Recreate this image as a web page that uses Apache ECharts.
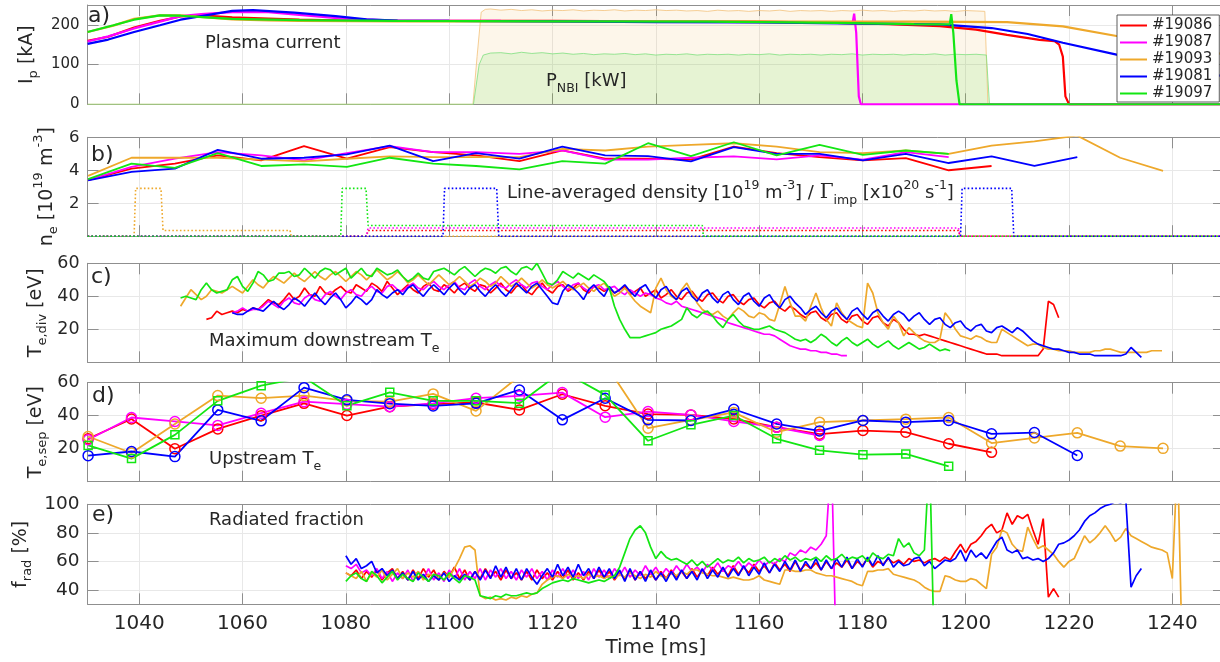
<!DOCTYPE html>
<html>
<head>
<meta charset="utf-8">
<title>Shot comparison #19081–#19097</title>
<script src="https://cdn.jsdelivr.net/npm/echarts@6/dist/echarts.min.js"></script>
<style>
  html, body { margin: 0; padding: 0; background: #ffffff; }
  #chart { width: 1220px; height: 662px; }
</style>
</head>
<body>
<div id="chart"></div>
<script>
// ---------------------------------------------------------------------------
// Shots and time base
// ---------------------------------------------------------------------------
const SHOTS = ['#19086', '#19087', '#19093', '#19081', '#19097'];
const X_TICKS = [1040, 1060, 1080, 1100, 1120, 1140, 1160, 1180, 1200, 1220, 1240];

// Thomson / interferometer profile times [ms]
const tProfile = [1030.1, 1038.5, 1046.9, 1055.2, 1063.6, 1071.9, 1080.2, 1088.5, 1096.9, 1105.2,
  1113.6, 1121.9, 1130.2, 1138.5, 1146.8, 1155.1, 1163.4, 1171.7, 1180.1, 1188.4,
  1196.7, 1205.0, 1213.3, 1221.6, 1229.9, 1238.2];

// ---------------------------------------------------------------------------
// a) Plasma current [kA], [t, Ip]
// ---------------------------------------------------------------------------
const ipRed = [[1030,160],[1034,170],[1039,193],[1044,210],[1048,221],[1052,224],[1058,219],[1065,216],[1071,213],[1080,211],[1090,210],[1100,210],[1120,210],[1140,209],[1160,208],[1175,205],[1185,202],[1195,197],[1202,188],[1208,175],[1214.3,162],[1217.2,159],[1218.1,150],[1218.4,153],[1218.8,120],[1219.3,20],[1220,0],[1250,0]];
const ipMagenta = [[1030,158],[1034,171],[1039,191],[1044,208],[1048,222],[1052,227],[1058,232],[1065,232],[1071,225],[1080,215],[1090,211],[1110,210],[1140,209],[1160,207],[1176,205],[1178.1,204],[1178.4,228],[1178.8,180],[1179.3,20],[1179.7,0],[1250,0]];
const ipOrange = [[1030,182],[1035,198],[1039,215],[1044,224],[1048,224],[1053,219],[1058,214],[1065,211],[1071,210],[1090,209],[1120,209],[1150,209],[1170,208],[1190,208],[1208,207],[1218.8,196],[1229.2,172],[1240,148],[1250,126]];
const ipBlue = [[1030,152],[1034,163],[1039,182],[1044,199],[1048,213],[1052,222],[1058,235],[1062,237],[1070,231],[1078,222],[1084,214],[1090,211],[1100,210],[1120,209],[1140,207],[1160,206],[1180,203],[1195,201],[1205,192],[1212,177],[1218.8,155],[1229.2,125],[1240,97],[1250,70]];
const ipGreen = [[1030,182],[1035,199],[1039,213],[1044,224],[1048,223],[1053,219],[1058,215],[1071,212],[1090,210],[1120,209],[1150,208],[1175,205],[1190,202],[1196.9,201],[1197.2,227],[1197.6,180],[1198.2,60],[1198.8,0],[1250,0]];

// NBI power [kW], [t, P]
const nbiOrange = [[1030,0],[1104.6,0],[1105.4,120],[1106.2,232],[1107,239],[1108,240],[1110,237],[1112,239],[1114,236],[1116,238],[1118,235],[1120,237],[1122,236],[1124,238],[1126,235],[1128,237],[1130,236],[1132,238],[1134,235],[1136,237],[1138,236],[1140,238],[1142,236],[1144,237],[1146,235],[1148,236],[1150,234],[1152,237],[1154,235],[1156,236],[1158,234],[1160,236],[1162,235],[1164,237],[1166,234],[1168,236],[1170,235],[1172,236],[1174,234],[1176,236],[1178,235],[1180,237],[1182,235],[1184,236],[1186,234],[1188,236],[1190,235],[1192,237],[1194,235],[1196,236],[1198,234],[1200,236],[1202,235],[1203.7,234],[1204.3,0],[1250,0]];
const nbiGreen = [[1030,0],[1104.7,0],[1105.8,100],[1106.6,124],[1108,129],[1110,130],[1112,127],[1114,131],[1116,128],[1118,130],[1120,127],[1122,129],[1124,126],[1126,128],[1128,125],[1130,127],[1132,126],[1134,128],[1136,125],[1138,127],[1140,124],[1142,126],[1144,125],[1146,127],[1148,124],[1150,126],[1152,125],[1154,126],[1156,124],[1158,126],[1160,125],[1162,127],[1164,124],[1166,126],[1168,125],[1170,126],[1172,124],[1174,126],[1176,125],[1178,127],[1180,124],[1182,126],[1184,125],[1186,126],[1188,124],[1190,126],[1192,125],[1194,127],[1196,124],[1198,126],[1200,125],[1202,126],[1204,124],[1204.6,0],[1250,0]];

// ---------------------------------------------------------------------------
// b) Line-averaged density [1e19 m^-3] on tProfile, impurity puff [1e20 s^-1]
// ---------------------------------------------------------------------------
const neRed = [3.4, 4.1, 4.4, 4.9, 4.6, 5.46, 4.7, 5.4, 5.1, 4.9, 4.56, 5.2, 4.7, 4.7, 4.64, 5.44, 5.04, 4.8, 4.6, 4.74, 4.0, 4.26, null, null, null, null];
const neMagenta = [3.4, 4.2, 4.7, 5.1, 4.9, 4.6, 5.04, 5.46, 5.1, 5.1, 5.0, 5.2, 4.64, 4.64, 4.76, 4.84, 4.66, 4.9, 4.64, 5.1, 4.8, null, null, null, null, null];
const neOrange = [3.66, 4.76, 4.76, 4.76, 4.64, 4.54, 4.7, 4.84, 4.8, 4.8, 4.8, 5.3, 5.2, 5.44, 5.54, 5.64, 5.44, 5.1, 5.04, 5.2, 5.0, 5.5, 5.75, 6.1, 4.76, 3.96];
const neBlue = [3.38, 3.9, 4.1, 5.24, 4.7, 4.76, 4.96, 5.5, 4.56, 5.04, 4.7, 5.44, 4.9, 4.86, 4.54, 5.4, 5.0, 5.0, 4.6, 5.0, 4.44, 4.84, 4.26, 4.8, null, null];
const neGreen = [3.46, 4.4, 4.14, 5.04, 4.26, 4.36, 4.2, 4.76, 4.4, 4.26, 4.06, 4.56, 4.4, 5.64, 4.86, 5.7, 4.9, 5.54, 4.94, 5.2, 5.0, null, null, null, null, null];

const puffRed = [[1030,0],[1084,0],[1084.3,0.35],[1198.6,0.35],[1198.9,0],[1250,0]];
const puffMagenta = [[1030,0],[1084,0],[1084.3,0.5],[1198.6,0.5],[1198.9,0],[1250,0]];
const puffOrange = [[1030,0],[1039,0],[1039.3,2.9],[1044.2,2.9],[1044.6,0.35],[1069.2,0.35],[1069.4,0],[1250,0]];
const puffBlue = [[1030,0],[1098.8,0],[1099.1,2.9],[1109.2,2.9],[1109.6,0],[1199,0],[1199.3,2.9],[1208.9,2.9],[1209.3,0],[1250,0]];
const puffGreen = [[1030,0],[1079,0],[1079.3,2.9],[1083.9,2.9],[1084.3,0.65],[1149,0.65],[1149.2,0],[1250,0]];

// ---------------------------------------------------------------------------
// c) Maximum divertor Te [eV], 1 ms samples from the given start time
// ---------------------------------------------------------------------------
const teDivRedStart = 1053;
const teDivRed = [26,27,31,29,30,31,30,32,31,33, 32,35,38,36,35,38,42,38,40,45, 41,40,46,42,41,44,46,43,42,47, 45,43,48,46,43,49,45,41,
  44,47,44,42,46,48,44,43,47,45, 42,46,48,45,43,47,46,42,45,48, 44,42,46,47,43,41,45,48,44,42, 46,47,43,45,48,44,42,46,45,43,
  45,42,44,46,41,43,45,40,42,44, 39,41,44,40,38,42,43,39,37,41, 42,38,36,40,41,37,35,38,39,35, 33,36,37,33,31,34,32,
  29,27,30,31,27,25,29,30,26,24, 28,29,25,23,27,28,24,22,26,24, 20,17,17,16,17,16,15,14,13,12, 11,10,9,8,7,6,5,5,5,4, 4,4,4,4,4,4,4,8,37,35, 27];
const teDivMagentaStart = 1058;
const teDivMagenta = [30,31,33,31,32,32,34,37,35,33, 37,39,36,35,39,41,38,37,41,43, 40,38,42,44,41,40,44,46,43,42, 46,47,44,
  43,46,48,45,44,47,49,46,44,47, 49,45,44,48,50,46,44,47,49,46, 45,48,50,47,45,48,49,46,44,47, 49,46,44,47,48,45,43,46,47,44,
  45,46,43,41,44,42,40,42,41,39, 38,36,35,37,34,33,32,31,30,29, 28,27,26,24,23,22,21,20,19,18, 17,17,16,14,12,10,9,8,8,7, 7,6,6,5,5,4,4];
const teDivOrangeStart = 1048;
const teDivOrange = [34,39,44,41,38,40,44,43,42,44, 46,44,42,46,50,47,45,49,52,50, 48,51,54,51,49,52,55,52,50,53, 55,52,49,52,55,53,50,53,56,53, 50,52,55,
  52,48,50,53,50,47,50,53,50,47, 49,52,49,46,48,51,49,46,48,52, 49,46,48,51,48,45,47,50,47,45, 47,49,46,44,46,48,45,43,46,48,
  44,40,42,45,41,37,34,32,30,45, 51,44,40,38,44,48,42,36,32,30, 29,31,28,26,30,33,31,28,27,30, 29,26,25,35,46,36,28,
  28,25,34,42,33,26,22,36,30,26, 24,22,21,48,42,30,24,20,28,24, 16,21,18,15,13,12,12,14,30,26, 20,16,15,14,16,15,13,12,12,20,
  18,16,14,12,10,11,11,9,8,8, 7,7,7,6,6,6,6,7,7,8, 8,7,6,6,6,6,6,6,7,7, 7];
const teDivBlueStart = 1058;
const teDivBlue = [30,29,29,31,33,32,31,34,37,34, 32,35,39,37,34,38,42,38,35,39, 42,38,33,36,40,38,35,38,44,41, 39,42,44,
  41,45,47,43,40,44,47,44,41,45, 48,44,41,45,47,43,40,44,47,43, 40,44,48,45,42,46,48,44,40,36, 35,43,47,45,42,38,44,47,43,40,
  46,42,44,47,43,40,45,47,42,39, 44,46,41,38,43,45,40,37,42,44, 39,36,41,43,38,35,40,42,37,34, 39,41,36,33,38,40,36,
  33,29,32,34,30,27,31,33,29,26, 31,33,29,26,30,32,28,25,29,31, 29,25,28,30,26,23,26,27,23,21, 24,25,21,19,22,23,19,18,21,22,
  20,18,21,19,16,13,11,10,9,8, 8,7,6,6,5,5,5,4,4,4, 4,4,4,5,9,6,3];
const teDivGreenStart = 1048;
const teDivGreen = [39,40,39,38,44,48,44,42,43,44, 50,52,46,43,48,55,53,49,50,54, 54,55,52,53,57,54,51,55,57,56, 53,55,57,51,54,57,53,52,57,55, 53,54,56,
  52,49,51,54,51,50,55,56,57,55, 53,56,58,55,52,55,57,56,54,57, 58,55,53,57,58,56,60,54,48,47, 50,55,53,51,54,52,50,53,51,49, 45,
  34,26,20,15,15,15,16,17,18,20, 21,22,24,26,33,29,27,30,31,28, 24,21,26,29,25,22,21,20,20,21, 22,20,19,18,16,14,
  13,14,12,14,17,15,12,10,13,15, 12,10,12,14,11,9,11,13,10,8, 10,12,10,8,9,11,9,7,8,7];

// ---------------------------------------------------------------------------
// d) Upstream separatrix Te [eV] on tProfile
// ---------------------------------------------------------------------------
const teSepRed = [26, 38, 20, 32, 40, 47.5, 40.1, 45.5, 47, 48, 43.5, 53, 46, 41, 40.5, 38, 33, 28.8, 31, 30, 23, 17.8, null, null, null, null];
const teSepMagenta = [25.4, 38.9, 36.5, 34.1, 41.5, 48.5, 47, 45.5, 47.5, 50.6, 52, 54, 39.1, 42.5, 40.5, 36.5, 33, 28, null, null, null, null, null, null, null, null];
const teSepOrange = [27.4, 17.4, 35, 52.2, 50.6, 52.2, 49, 48.5, 53.2, 42.9, 64, 76, 71.6, 32.4, 37.4, 42, 30, 36.1, 37.1, 37.9, 38.9, 23.4, 26.5, 29.6, 21.6, 20.2];
const teSepBlue = [15.8, 18.3, 15.2, 43.5, 36.9, 57, 49.6, 47.3, 45.9, 47.5, 55.6, 37.5, 50.6, 37.5, 37.1, 43.9, 35, 30.8, 37.1, 36.1, 37.1, 29, 29.8, 15.9, null, null];
const teSepGreen = [22, 14, 28.4, 49, 58.2, 63.3, 46.1, 54.2, 49, 49, 47.6, 67, 52.6, 24.8, 34.5, 40.1, 26, 19, 16.4, 16.8, 9.3, null, null, null, null, null];

// ---------------------------------------------------------------------------
// e) Radiated fraction [%], 1 ms samples from 1080 ms
// ---------------------------------------------------------------------------
const fradStart = 1080;
const fradRed = [52,50,54,48,53,49,54,47,52,55,48,
  53,47,54,48,55,49,54,47,53,49, 56,48,54,47,53,48,55,49,53,47, 54,48,52,47,53,47,54,48,52,47, 53,48,54,47,52,47,53,48,54,48,
  53,47,52,48,54,47,53,48,52,47, 53,48,54,49,53,48,55,49,54,50, 56,51,55,50,57,51,56,52,58,53, 57,52,59,54,58,53,60,54,58,55,
  59,54,60,55,59,56,61,55,60,57, 62,56,60,58,62,59,61,58,62,60, 61,59,61,62,60,63,61,67,72,66,
  72,74,78,83,86,80,82,94,86,92, 90,93,82,72,90,35,41,35];
const fradMagenta = [57,55,58,52,54,50,55,48,53,46,52,
  48,54,46,53,48,55,47,52,46,54, 48,55,47,53,48,55,47,54,49,55, 48,53,47,54,49,55,48,53,47,54, 49,55,48,54,48,53,47,55,49,54,
  48,55,50,56,49,54,50,57,51,56, 50,55,51,57,52,58,53,56,52,58, 54,59,53,57,55,60,55,59,56,61, 57,60,58,62,60,66,64,68,66,70,
  68,72,78,135,-20];
const fradOrange = [52,50,48,53,46,52,49,54,47,51,55,48,52,49,53,47,51,50,48,52,49,
  55,62,70,71,68,
  36,34,35,33,34,33,35,34,36,35,37,38,
  44,47,49,50,48,51,49,50,48,51,49,50,48,
  50,48,51,49,52,50,48,51,49,53,50,48,52,50,53,51,54,
  54,52,51,50,50,49,48,49,48,47,47,48,50,
  47,46,45,44,54,54,53,53,54,54,
  52,51,50,50,49,48,47,46,44,43,
  53,53,54,54,55,51,50,49,48,47,
  45,42,40,39,39,50,49,47,46,46,
  48,47,44,41,65,70,82,80,72,68,
  67,84,76,69,71,68,65,60,56,60,
  62,70,78,73,76,80,85,80,74,77,
  83,78,76,74,72,70,69,68,66,48,135,-20];
const fradBlue = [64,58,62,55,57,60,52,55,50,54,48,
  52,47,53,47,51,46,50,47,52,46, 50,47,51,47,53,47,54,48,57,49, 56,48,55,47,55,49,44,50,55,49, 58,50,56,49,58,50,55,48,56,49,
  55,48,54,46,55,47,53,46,54,47, 52,46,53,47,54,48,53,47,55,48, 54,49,56,49,55,50,57,50,56,51, 59,52,58,53,60,54,61,53,60,55,
  62,54,61,55,62,56,63,55,62,56, 63,57,64,57,63,56,60,57,58,62, 63,57,60,55,58,61,60,62,68,60,
  68,63,66,62,68,74,77,68,66,68, 62,63,61,62,60,62,66,72,73,75, 78,82,88,92,94,97,99,100,102,101, 103,42,50,55];
const fradGreen = [46,50,52,48,46,53,50,45,49,53,47,51,48,46,52,49,46,51,50,47,52,48,45,50,49,47,
  36,35,34,36,35,37,36,36,37,38,37,38,
  41,43,45,46,47,46,48,47,46,45,46,47,46,48,50,
  56,66,76,82,85,80,70,62,67,63,61,62,60,
  58,61,57,60,56,59,62,59,61,60,63,59,62,60,61,63,59,62,60,64,61,63,60,62,61,
  63,60,64,61,62,65,61,63,62,64,60,66,63,62,65,64,76,70,73,66,64,68,
  135,-20];

// ---------------------------------------------------------------------------
// Styling
// ---------------------------------------------------------------------------
const COLORS = ['#ff0000', '#ff00ff', '#eea82b', '#0000ff', '#13e613'];
const FONT = 'DejaVu Sans';
const TEXT = '#262626';
const AXIS_GRAY = '#8f8f8f';
const GRID_GRAY = '#e8e8e8';

const sub = (size) => ({ fontSize: size, fontFamily: FONT, color: TEXT, lineHeight: 13, verticalAlign: 'bottom' });
const sup = (size) => ({ fontSize: size, fontFamily: FONT, color: TEXT, lineHeight: 13, verticalAlign: 'top' });
const main = (size) => ({ fontSize: size, fontFamily: FONT, color: TEXT, lineHeight: 28, verticalAlign: 'middle' });
const RICH_Y = { m: main(19), s: sub(13), u: sup(13) };

const PANELS = [
  { top: 5,     height: 99.3, yMin: 0,  yMax: 250, yStep: 100, labels: [0, 100, 200], labelSize: 15,
    name: '{m|I}{s|p}{m| [kA]}', gap: 47 },
  { top: 137.3, height: 98.9, yMin: 0,  yMax: 6,   yStep: 2,   labels: [2, 4, 6], labelSize: 16.5,
    name: '{m|n}{s|e}{m| [10}{u|19}{m| m}{u|-3}{m|]}', gap: 27 },
  { top: 263.3, height: 99,   yMin: 0,  yMax: 60,  yStep: 20,  labels: [20, 40, 60], labelSize: 17.5,
    name: '{m|T}{s|e,div}{m| [eV]}', gap: 38 },
  { top: 382.7, height: 99,   yMin: 0,  yMax: 60,  yStep: 20,  labels: [20, 40, 60], labelSize: 17.5,
    name: '{m|T}{s|e,sep}{m| [eV]}', gap: 38 },
  { top: 504.3, height: 100,  yMin: 30, yMax: 100, yStep: null, labels: [40, 60, 80, 100], labelSize: 18.5,
    name: '{m|f}{s|rad}{m| [%]}', gap: 53 }
];

const grids = [], xAxes = [], yAxes = [];
PANELS.forEach((p, i) => {
  const last = i === PANELS.length - 1;
  grids.push({ left: 87.6, right: -4, top: p.top, height: p.height, containLabel: false, outerBoundsMode: 'none', show: false });
  xAxes.push({
    gridIndex: i, type: 'value', min: 1030, max: 1250, position: 'bottom',
    axisLine: { show: true, onZero: false, lineStyle: { color: AXIS_GRAY, width: 1 } },
    axisTick: { show: true, inside: true, length: 11, customValues: X_TICKS, lineStyle: { color: AXIS_GRAY } },
    axisLabel: { show: last, customValues: X_TICKS, fontSize: 20, fontFamily: FONT, color: TEXT, margin: 9,
      formatter: (v) => String(v) },
    splitLine: { show: true, lineStyle: { color: GRID_GRAY, width: 1 } },
    name: last ? 'Time [ms]' : '', nameLocation: 'middle', nameGap: 33, nameMoveOverlap: false,
    nameTextStyle: { fontSize: 20, fontFamily: FONT, color: TEXT }
  });
  xAxes.push({
    gridIndex: i, type: 'value', min: 1030, max: 1250, position: 'top',
    axisLine: { show: true, onZero: false, lineStyle: { color: AXIS_GRAY, width: 1 } },
    axisTick: { show: true, inside: true, length: 11, customValues: X_TICKS, lineStyle: { color: AXIS_GRAY } },
    axisLabel: { show: false }, splitLine: { show: false }
  });
  const tickCfg = { show: true, inside: true, length: 11, lineStyle: { color: AXIS_GRAY } };
  const labelCfg = { fontSize: p.labelSize, fontFamily: FONT, color: TEXT, margin: 8,
    formatter: (v) => (p.labels.indexOf(v) >= 0 ? String(v) : '') };
  if (p.yStep === null) { tickCfg.customValues = p.labels; labelCfg.customValues = p.labels; }
  const left = {
    gridIndex: i, type: 'value', min: p.yMin, max: p.yMax, position: 'left',
    axisLine: { show: true, onZero: false, lineStyle: { color: AXIS_GRAY, width: 1 } },
    axisTick: tickCfg, axisLabel: labelCfg,
    splitLine: { show: true, lineStyle: { color: GRID_GRAY, width: 1 } },
    name: p.name, nameLocation: 'middle', nameRotate: 90, nameGap: p.gap, nameMoveOverlap: false,
    nameTextStyle: { rich: RICH_Y }
  };
  if (p.yStep !== null) left.interval = p.yStep;
  yAxes.push(left);
  const right = {
    gridIndex: i, type: 'value', min: p.yMin, max: p.yMax, position: 'right',
    axisLine: { show: true, onZero: false, lineStyle: { color: AXIS_GRAY, width: 1 } },
    axisTick: Object.assign({}, tickCfg), axisLabel: { show: false }, splitLine: { show: false }
  };
  if (p.yStep !== null) right.interval = p.yStep;
  yAxes.push(right);
});

// ---------------------------------------------------------------------------
// Series helpers
// ---------------------------------------------------------------------------
const onProfile = (vals) => vals.map((v, i) => [tProfile[i], v]);
const fromStart = (t0, vals) => vals.map((v, i) => [t0 + i, v]);

function line(name, color, panel, data, width, extra) {
  return Object.assign({
    name: name, type: 'line', xAxisIndex: 2 * panel, yAxisIndex: 2 * panel,
    data: data, symbol: 'none', showSymbol: false, silent: true, animation: false,
    connectNulls: false, clip: true,
    lineStyle: { color: color, width: width }, itemStyle: { color: color },
    emphasis: { disabled: true }
  }, extra || {});
}

const series = [];
// a) plasma current (first so the legend picks these styles)
[ipRed, ipMagenta, ipOrange, ipBlue, ipGreen].forEach((d, k) => series.push(line(SHOTS[k], COLORS[k], 0, d, 2.2, { z: 3 })));
// a) NBI power, shaded
series.push(line('P_NBI ' + SHOTS[2], '#f3c27a', 0, nbiOrange, 0.8, { z: 1, areaStyle: { color: 'rgba(240,170,60,0.15)' } }));
series.push(line('P_NBI ' + SHOTS[4], '#7fe07f', 0, nbiGreen, 0.8, { z: 1, areaStyle: { color: 'rgba(60,220,40,0.17)' } }));

// b) density and impurity puff
[neRed, neMagenta, neOrange, neBlue, neGreen].forEach((d, k) => series.push(line(SHOTS[k], COLORS[k], 1, onProfile(d), 1.8)));
[puffRed, puffMagenta, puffOrange, puffBlue, puffGreen].forEach((d, k) =>
  series.push(line(SHOTS[k], COLORS[k], 1, d, 1.6, { lineStyle: { color: COLORS[k], width: 1.6, type: [1.6, 2.2] } })));

// c) divertor Te
series.push(line(SHOTS[0], COLORS[0], 2, fromStart(teDivRedStart, teDivRed), 1.7));
series.push(line(SHOTS[1], COLORS[1], 2, fromStart(teDivMagentaStart, teDivMagenta), 1.7));
series.push(line(SHOTS[2], COLORS[2], 2, fromStart(teDivOrangeStart, teDivOrange), 1.7));
series.push(line(SHOTS[3], COLORS[3], 2, fromStart(teDivBlueStart, teDivBlue), 1.7));
series.push(line(SHOTS[4], COLORS[4], 2, fromStart(teDivGreenStart, teDivGreen), 1.7));

// d) upstream Te with markers
[teSepRed, teSepMagenta, teSepOrange, teSepBlue, teSepGreen].forEach((d, k) => {
  const isGreen = k === 4;
  series.push(line(SHOTS[k], COLORS[k], 3, onProfile(d), 1.8, {
    symbol: isGreen ? 'rect' : 'circle', showSymbol: true, symbolSize: isGreen ? 8 : 10,
    itemStyle: { color: 'rgba(255,255,255,0)', borderColor: COLORS[k], borderWidth: 1.5 }
  }));
});

// e) radiated fraction
series.push(line(SHOTS[0], COLORS[0], 4, fromStart(fradStart, fradRed), 1.7));
series.push(line(SHOTS[1], COLORS[1], 4, fromStart(fradStart, fradMagenta), 1.7));
series.push(line(SHOTS[2], COLORS[2], 4, fromStart(fradStart, fradOrange), 1.7));
series.push(line(SHOTS[3], COLORS[3], 4, fromStart(fradStart, fradBlue), 1.7));
series.push(line(SHOTS[4], COLORS[4], 4, fromStart(fradStart, fradGreen), 1.7));

// ---------------------------------------------------------------------------
// Panel annotations
// ---------------------------------------------------------------------------
const RICH_T = { m: main(18), s: sub(12.5), u: sup(12.5),
  g: { fontSize: 20, fontFamily: 'DejaVu Serif', color: TEXT, lineHeight: 28, verticalAlign: 'middle' } };
function note(x, y, text, size) {
  return { type: 'text', x: x, y: y, z: 100, silent: true,
    style: { text: text, rich: RICH_T, fontSize: size || 18, fontFamily: FONT, fill: TEXT, align: 'left', verticalAlign: 'middle' } };
}
const graphics = [
  note(88, 16, 'a)', 22), note(91, 155, 'b)', 22), note(91, 277, 'c)', 22), note(92, 396, 'd)', 22), note(92, 515, 'e)', 22),
  note(205, 43, '{m|Plasma current}'),
  note(546, 81, '{m|P}{s|NBI}{m| [kW]}'),
  note(507, 193, '{m|Line-averaged density [10}{u|19}{m| m}{u|-3}{m|] / }{g|Γ}{s|imp}{m| [x10}{u|20}{m| s}{u|-1}{m|]}'),
  note(209, 341, '{m|Maximum downstream T}{s|e}'),
  note(209, 459, '{m|Upstream T}{s|e}'),
  note(209, 520, '{m|Radiated fraction}')
];

const chart = echarts.init(document.getElementById('chart'), null, { renderer: 'canvas' });
chart.setOption({
  animation: false,
  backgroundColor: '#ffffff',
  textStyle: { fontFamily: FONT },
  grid: grids,
  xAxis: xAxes,
  yAxis: yAxes,
  legend: {
    data: SHOTS, orient: 'vertical', left: 1117, top: 15,
    icon: 'rect', itemWidth: 27, itemHeight: 2, itemGap: 2,
    padding: [3, 7, 1, 3], backgroundColor: '#ffffff', borderColor: '#333333', borderWidth: 0.8,
    textStyle: { fontSize: 15, fontFamily: FONT, color: TEXT, lineHeight: 15 },
    selectedMode: false, z: 10
  },
  graphic: graphics,
  series: series
});
</script>
</body>
</html>
